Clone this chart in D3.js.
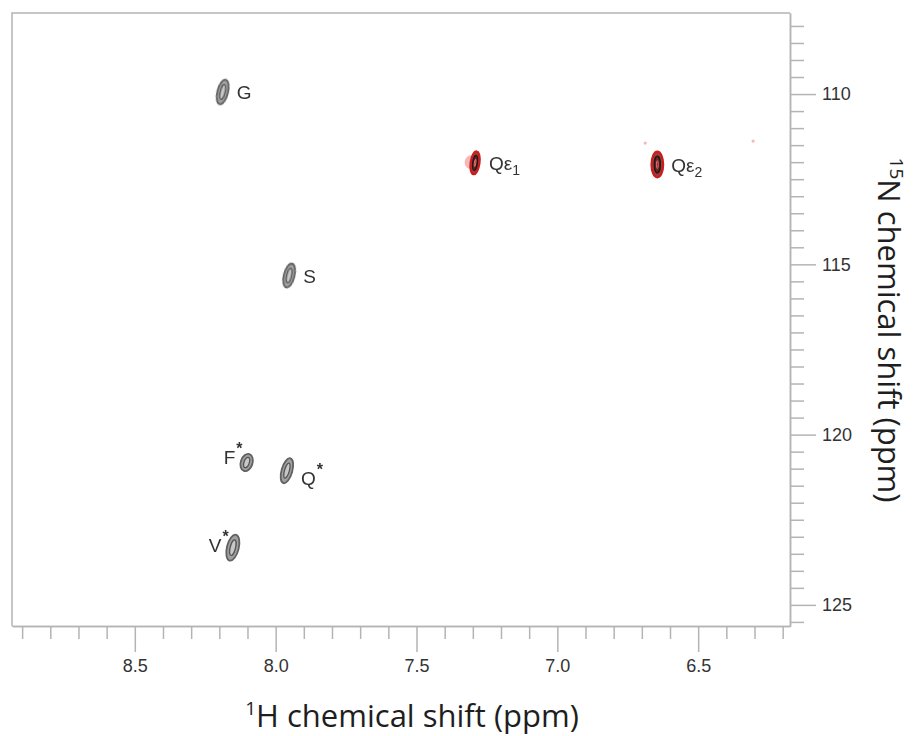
<!DOCTYPE html>
<html>
<head>
<meta charset="utf-8">
<script src="https://cdn.jsdelivr.net/npm/d3@7"></script>
<style>
  body { margin: 0; background: #fff; }
  svg { display: block; }
  .tick text { font-family: "Liberation Sans", Arial, sans-serif; font-size: 18px; fill: #333; }
  .peak-label { font-family: "Liberation Sans", Arial, sans-serif; font-size: 19px; fill: #333; }
  .axis-title { font-family: "Open Sans", "Liberation Sans", sans-serif; font-size: 31px; fill: #1e1e1e; }
</style>
</head>
<body>
<div id="chart"></div>
<script>
// --- Data (ppm) ---
const peakNames = ["G", "Qε1", "Qε2", "S", "F*", "Q*", "V*"];
const peakH = [8.188, 7.292, 6.645, 7.952, 8.103, 7.960, 8.152];
const peakN = [109.94, 112.02, 112.07, 115.33, 120.82, 121.06, 123.32];
const widthH = [0.019, 0.016, 0.021, 0.019, 0.021, 0.019, 0.021];
const widthN = [0.37, 0.34, 0.38, 0.36, 0.26, 0.38, 0.39];
const peakTilt = [14, 8, 0, 14, 18, 16, 14];
const sideChain = ["Qε1", "Qε2"];
const labelLeft = ["F*", "V*"];
const noiseH = [6.688, 6.305];
const noiseN = [111.44, 111.38];

const xMajorTicks = [8.5, 8.0, 7.5, 7.0, 6.5];
const yMajorTicks = [110, 115, 120, 125];
const xTitle = "H chemical shift (ppm)";
const yTitle = "N chemical shift (ppm)";

// --- Layout ---
const width = 914, height = 736;
const plot = { left: 12, top: 13, right: 790, bottom: 626 };

const svg = d3.select("#chart").append("svg")
    .attr("width", width)
    .attr("height", height);

const x = d3.scaleLinear().domain([8.936, 6.174]).range([plot.left, plot.right]);
const y = d3.scaleLinear().domain([107.62, 125.62]).range([plot.top, plot.bottom]);

const defs = svg.append("defs");
defs.append("filter").attr("id", "soft")
  .append("feGaussianBlur").attr("stdDeviation", 0.6);

// --- Frame ---
svg.append("path")
    .attr("d", `M${plot.left},${plot.bottom}V${plot.top}H${plot.right}`)
    .attr("fill", "none")
    .attr("stroke", "#b4b4b4")
    .attr("stroke-width", 1.5);

// --- Axes ---
const xMinor = d3.range(62, 90).map(v => v / 10).filter(v => !xMajorTicks.some(m => Math.abs(m - v) < 1e-6));
const yMinor = d3.range(216, 252).map(v => v / 2).filter(v => !yMajorTicks.some(m => Math.abs(m - v) < 1e-6));

function styleAxis(g) {
    g.select(".domain").attr("stroke", "#b4b4b4").attr("stroke-width", 1.5);
    g.selectAll(".tick line").attr("stroke", "#b4b4b4").attr("stroke-width", 1.5);
}

svg.append("g")
    .attr("transform", `translate(0,${plot.bottom})`)
    .call(d3.axisBottom(x).tickValues(xMinor).tickSizeInner(13).tickSizeOuter(0).tickFormat(""))
    .call(styleAxis);

svg.append("g")
    .attr("transform", `translate(0,${plot.bottom})`)
    .call(d3.axisBottom(x).tickValues(xMajorTicks).tickSizeInner(26).tickSizeOuter(0).tickPadding(7).tickFormat(d3.format(".1f")))
    .call(styleAxis);

svg.append("g")
    .attr("transform", `translate(${plot.right},0)`)
    .call(d3.axisRight(y).tickValues(yMinor).tickSizeInner(14).tickSizeOuter(0).tickFormat(""))
    .call(styleAxis);

svg.append("g")
    .attr("transform", `translate(${plot.right},0)`)
    .call(d3.axisRight(y).tickValues(yMajorTicks).tickSizeInner(26).tickSizeOuter(0).tickPadding(6).tickFormat(d3.format("d")))
    .call(styleAxis);

// --- Axis titles ---
const xt = svg.append("text").attr("class", "axis-title")
    .attr("x", 412)
    .attr("y", 727)
    .attr("text-anchor", "middle");
xt.append("tspan").attr("font-size", "19px").attr("dy", "-12").text("1");
xt.append("tspan").attr("dy", "12").text(xTitle);

const yt = svg.append("text").attr("class", "axis-title")
    .attr("transform", `translate(878,330) rotate(90)`)
    .attr("text-anchor", "middle");
yt.append("tspan").attr("font-size", "19px").attr("dy", "-12").text("15");
yt.append("tspan").attr("dy", "12").text(yTitle);

// --- Peaks ---
const peaks = peakNames.map((name, i) => ({
    name, h: peakH[i], n: peakN[i], wh: widthH[i], wn: widthN[i], tilt: peakTilt[i]
}));

const peakG = svg.append("g").attr("filter", "url(#soft)");

// faint noise specks
peakG.selectAll(".noise").data(noiseH).enter()
  .append("circle").attr("class", "noise")
    .attr("cx", d => x(d))
    .attr("cy", (d, i) => y(noiseN[i]))
    .attr("r", 1.6)
    .attr("fill", "#f3b8b8");

peaks.forEach(p => {
    const cx = x(p.h), cy = y(p.n);
    const rx = Math.abs(x(p.h + p.wh) - x(p.h));
    const ry = Math.abs(y(p.n + p.wn) - y(p.n));
    const red = sideChain.includes(p.name);
    const g = peakG.append("g").attr("transform", `translate(${cx},${cy}) rotate(${p.tilt})`);
    if (red) {
        if (p.name === "Qε1") {
            g.append("ellipse").attr("cx", -4).attr("cy", 0).attr("rx", rx + 2).attr("ry", ry * 0.6)
                .attr("fill", "#f0a0a0").attr("opacity", 0.75);
        }
        g.append("ellipse").attr("rx", rx).attr("ry", ry)
            .attr("fill", "#a83838").attr("stroke", "#cc1a1a").attr("stroke-width", 2);
        g.append("ellipse").attr("rx", rx * 0.5).attr("ry", ry * 0.65)
            .attr("fill", "#7a2020").attr("stroke", "#1a1a1a").attr("stroke-width", 1.5);
        g.append("ellipse").attr("rx", rx * 0.15).attr("ry", ry * 0.3)
            .attr("fill", "none").attr("stroke", "#e07070").attr("stroke-width", 1);
    } else {
        g.append("ellipse").attr("rx", rx).attr("ry", ry)
            .attr("fill", "#a0a0a0").attr("stroke", "#626262").attr("stroke-width", 1.8);
        g.append("ellipse").attr("rx", rx * 0.45).attr("ry", ry * 0.6)
            .attr("fill", "#c8c8c8").attr("stroke", "#555").attr("stroke-width", 1.3);
    }
});

// --- Peak labels ---
peaks.forEach(p => {
    const cx = x(p.h), cy = y(p.n);
    const left = labelLeft.includes(p.name);
    const base = p.name[0];
    const rest = p.name.slice(1);
    const t = svg.append("text").attr("class", "peak-label");
    if (left) {
        t.attr("x", cx - (p.name === "F*" ? 23 : 24)).attr("y", cy + (p.name === "F*" ? 1 : 4));
    } else {
        t.attr("x", cx + 14).attr("y", cy + (p.name === "Q*" ? 14 : 7));
    }
    t.append("tspan").text(base);
    if (rest === "*") {
        t.append("tspan").attr("font-size", "16px").attr("font-weight", "bold")
            .attr("dy", -10).attr("dx", 1).text("*");
    } else if (rest.length) {
        t.append("tspan").text(rest[0]);
        t.append("tspan").attr("font-size", "14px").attr("dy", 5).text(rest.slice(1));
    }
});
</script>
</body>
</html>
